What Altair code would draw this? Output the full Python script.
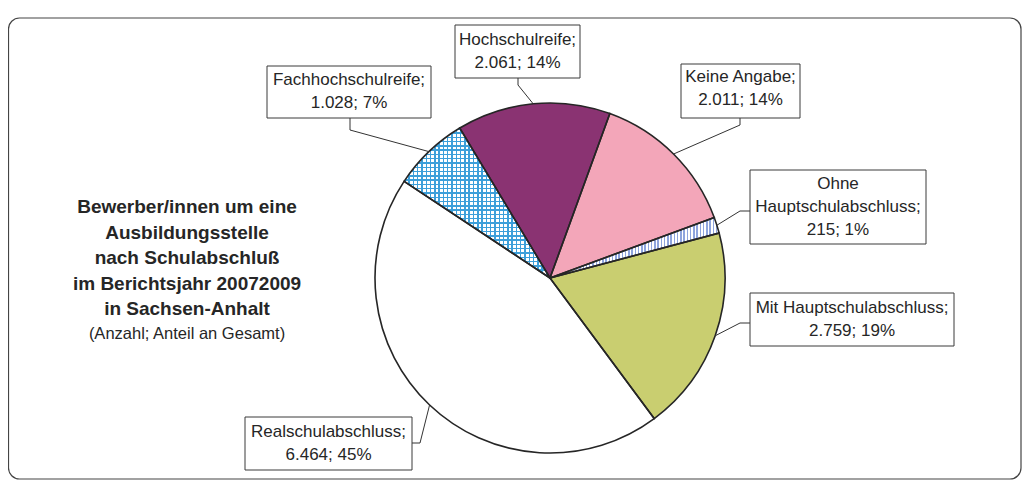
import math
import altair as alt
import pandas as pd

# ---------------- data ----------------
categories = ["Keine Angabe", "Ohne Hauptschulabschluss", "Mit Hauptschulabschluss",
              "Realschulabschluss", "Fachhochschulreife", "Hochschulreife"]
values = [2011, 215, 2759, 6464, 1028, 2061]
value_labels = ["2.011", "215", "2.759", "6.464", "1.028", "2.061"]
shares = [14, 1, 19, 45, 7, 14]
name_lines = [["Keine Angabe;"], ["Ohne", "Hauptschulabschluss;"], ["Mit Hauptschulabschluss;"],
              ["Realschulabschluss;"], ["Fachhochschulreife;"], ["Hochschulreife;"]]
title_lines = ["Bewerber/innen um eine", "Ausbildungsstelle", "nach Schulabschluß",
               "im Berichtsjahr 20072009", "in Sachsen-Anhalt"]
subtitle = "(Anzahl; Anteil an Gesamt)"

# ---------------- style / layout ----------------
colors = ["#F3A6B9", "#FFFFFF", "#C9CE70", "#FFFFFF", "#FFFFFF", "#8A3372"]
W, H = 1014, 472
CX, CY, R = 542, 270, 175
START = math.radians(20)
FONT = "Liberation Sans"
LABEL_SIZE = 17

# label boxes: x0, x1, y0, y1, text centre x, first line y ; leader anchor + elbow
boxes = {
    "Keine Angabe": dict(x0=673, x1=792, y0=56, y1=110, tx=732.5, ty=69,
                         a=(732, 110), e=(732, 117)),
    "Ohne Hauptschulabschluss": dict(x0=742, x1=918, y0=162, y1=236, tx=830, ty=176,
                                     a=(742, 203), e=(732, 203)),
    "Mit Hauptschulabschluss": dict(x0=742, x1=946, y0=285, y1=338, tx=844, ty=300,
                                    a=(742, 315), e=(732, 315)),
    "Realschulabschluss": dict(x0=237, x1=404, y0=409, y1=462, tx=320.5, ty=424,
                               a=(404, 435), e=(412, 435)),
    "Fachhochschulreife": dict(x0=259, x1=423, y0=58, y1=110, tx=341, ty=72,
                               a=(342, 110), e=(342, 122)),
    "Hochschulreife": dict(x0=447, x1=572, y0=17, y1=70, tx=509.5, ty=32,
                           a=(510, 70), e=(510, 77)),
}
LINE_H = 23

df = pd.DataFrame({"cat": categories, "value": values, "order": list(range(len(categories)))})
total = sum(values)

theta_scale = alt.Scale(domain=[0, total], range=[START, START + 2 * math.pi])


def stripes(n, frac, color, along_x):
    clear = "rgba(255,255,255,0)"
    stops = []
    for k in range(n):
        a = round(k / n, 5)
        b = round((k + frac) / n, 5)
        c = round(min(1.0, (k + 1) / n), 5)
        stops += [{"offset": a, "color": color}, {"offset": b, "color": color},
                  {"offset": b, "color": clear}, {"offset": c, "color": clear}]
    g = {"gradient": "linear", "stops": stops}
    if along_x:
        g.update(x1=0, x2=1, y1=0, y2=0)
    else:
        g.update(x1=0, x2=0, y1=0, y2=1)
    return g


base = alt.Chart(df).encode(
    theta=alt.Theta("value:Q", stack=True, scale=theta_scale),
    order=alt.Order("order:Q"),
    x=alt.value(CX), y=alt.value(CY),
)

pie_fill = base.mark_arc(radius=R, strokeWidth=0).encode(
    color=alt.Color("cat:N", scale=alt.Scale(domain=categories, range=colors), legend=None)
)


def overlay(cat, grad):
    return base.mark_arc(radius=R, strokeWidth=0, fill=grad).encode(
        opacity=alt.condition(alt.datum.cat == cat, alt.value(1), alt.value(0))
    )


fach_v = overlay("Fachhochschulreife", stripes(34, 0.34, "#3C9FDA", True))
fach_h = overlay("Fachhochschulreife", stripes(35, 0.34, "#3C9FDA", False))
ohne_v = overlay("Ohne Hauptschulabschluss", stripes(52, 0.45, "#8EA4DD", True))

outline = base.mark_arc(radius=R, fillOpacity=0, stroke="#262626", strokeWidth=1.6)

# leader lines: anchor -> elbow -> pie edge at slice middle
rows = []
cum = 0
for c, v in zip(categories, values):
    mid = START + 2 * math.pi * (cum + v / 2) / total
    cum += v
    b = boxes[c]
    pts = [b["a"], b["e"], (CX + R * math.sin(mid), CY - R * math.cos(mid))]
    for i, (px, py) in enumerate(pts):
        rows.append({"cat": c, "seq": i, "px": px, "py": py})
leader_df = pd.DataFrame(rows)
leaders = alt.Chart(leader_df).mark_line(color="#333333", strokeWidth=1).encode(
    x=alt.X("px:Q", scale=None, axis=None),
    y=alt.Y("py:Q", scale=None, axis=None),
    detail="cat:N", order="seq:Q",
)

box_df = pd.DataFrame([{"cat": c, **{k: boxes[c][k] for k in ("x0", "x1", "y0", "y1")}}
                       for c in categories])
box_marks = alt.Chart(box_df).mark_rect(fill="white", stroke="#3a3a3a", strokeWidth=1).encode(
    x=alt.X("x0:Q", scale=None, axis=None), x2="x1:Q",
    y=alt.Y("y0:Q", scale=None, axis=None), y2="y1:Q",
)

text_rows = []
for c, vl, s, nl in zip(categories, value_labels, shares, name_lines):
    b = boxes[c]
    lines = nl + [f"{vl}; {s}%"]
    for i, t in enumerate(lines):
        text_rows.append({"tx": b["tx"], "ty": b["ty"] + i * LINE_H, "t": t})
label_text = alt.Chart(pd.DataFrame(text_rows)).mark_text(
    font=FONT, fontSize=LABEL_SIZE, align="center", baseline="middle", color="#262626"
).encode(
    x=alt.X("tx:Q", scale=None, axis=None), y=alt.Y("ty:Q", scale=None, axis=None), text="t:N"
)

title_df = pd.DataFrame({"t": title_lines, "tx": [179] * len(title_lines),
                         "ty": [199 + 25.5 * i for i in range(len(title_lines))]})
title = alt.Chart(title_df).mark_text(
    font=FONT, fontSize=19, fontWeight="bold", align="center", baseline="middle", color="#262626"
).encode(x=alt.X("tx:Q", scale=None, axis=None), y=alt.Y("ty:Q", scale=None, axis=None), text="t:N")

sub = alt.Chart(pd.DataFrame({"t": [subtitle], "tx": [179], "ty": [326]})).mark_text(
    font=FONT, fontSize=16.5, align="center", baseline="middle", color="#262626"
).encode(x=alt.X("tx:Q", scale=None, axis=None), y=alt.Y("ty:Q", scale=None, axis=None), text="t:N")

frame = alt.Chart(pd.DataFrame({"k": [0]})).mark_rect(
    fillOpacity=0, stroke="#444444", strokeWidth=1.2, cornerRadius=11
).encode(x=alt.value(0.5), x2=alt.value(1013), y=alt.value(10), y2=alt.value(471))

chart = alt.layer(
    frame, pie_fill, fach_v, fach_h, ohne_v, outline, leaders, box_marks, label_text, title, sub
).properties(
    width=W, height=H, padding=0, autosize=alt.AutoSizeParams(type="none"), background="white"
).configure_view(strokeWidth=0)

chart.save("out.html", embed_options={"renderer": "svg", "actions": False})
